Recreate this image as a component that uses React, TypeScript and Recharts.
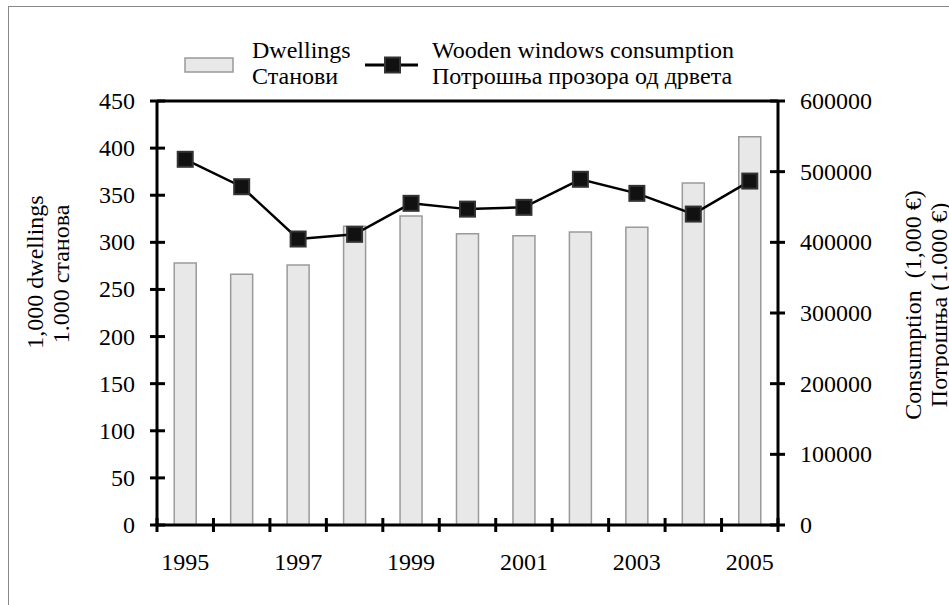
import React from 'react'
import {
  ComposedChart,
  Bar,
  Line,
  XAxis,
  YAxis,
  ReferenceLine,
  Legend,
} from 'recharts'

const years = ['1995', '1996', '1997', '1998', '1999', '2000', '2001', '2002', '2003', '2004', '2005']
const dwellings = [278, 266, 276, 317, 328, 309, 307, 311, 316, 363, 412]
const consumption = [517500, 478700, 404700, 411300, 455200, 447000, 449500, 489200, 469300, 440000, 486700]
const leftTicks = [0, 50, 100, 150, 200, 250, 300, 350, 400, 450]
const rightTicks = [0, 100000, 200000, 300000, 400000, 500000, 600000]

const data = years.map((year, i) => ({
  year,
  dwellings: dwellings[i],
  consumption: consumption[i],
}))

const FONT = "'Liberation Serif', 'Times New Roman', serif"
const FS = 24
const W = 949
const H = 605
const PLOT_LEFT = 157
const PLOT_RIGHT = 778
const PLOT_BOTTOM = 525
const PLOT_TOP = 101
const BAND = (PLOT_RIGHT - PLOT_LEFT) / years.length

const LeftTick = (props: any) => {
  const { x, y, payload } = props
  return (
    <g>
      <line x1={x - 7} x2={x + 8} y1={y} y2={y} stroke="#000" strokeWidth={3} />
      <text x={x - 22} y={y} textAnchor="end" dominantBaseline="central" fontFamily={FONT} fontSize={FS} fill="#000">
        {payload.value}
      </text>
    </g>
  )
}

const RightTick = (props: any) => {
  const { x, y, payload } = props
  return (
    <g>
      <line x1={x - 8} x2={x + 7} y1={y} y2={y} stroke="#000" strokeWidth={3} />
      <text x={x + 22} y={y} textAnchor="start" dominantBaseline="central" fontFamily={FONT} fontSize={FS} fill="#000">
        {payload.value}
      </text>
    </g>
  )
}

const BottomTick = (props: any) => {
  const { x, y, payload, index } = props
  const last = index === years.length - 1
  return (
    <g>
      <line x1={x - BAND / 2} x2={x - BAND / 2} y1={y - 7} y2={y + 7} stroke="#000" strokeWidth={3} />
      {last && <line x1={x + BAND / 2} x2={x + BAND / 2} y1={y - 7} y2={y + 7} stroke="#000" strokeWidth={3} />}
      {index % 2 === 0 && (
        <text x={x} y={y + 45} textAnchor="middle" fontFamily={FONT} fontSize={FS} fill="#000">
          {payload.value}
        </text>
      )}
    </g>
  )
}

const SquareDot = (props: any) => {
  const { cx, cy, index } = props
  return <rect key={`dot-${index}`} x={cx - 7.5} y={cy - 7.5} width={15} height={15} fill="#111" stroke="#333" strokeWidth={2} />
}

const LegendContent = () => (
  <svg width={W} height={100} style={{ position: 'absolute', left: 0, top: 0, overflow: 'visible' }}>
    <rect x={185} y={58} width={48} height={14} fill="#e8e8e8" stroke="#999" strokeWidth={1.5} />
    <text x={252} y={58} fontFamily={FONT} fontSize={FS}>Dwellings</text>
    <text x={252} y={84} fontFamily={FONT} fontSize={FS}>Станови</text>
    <line x1={365} x2={418} y1={65} y2={65} stroke="#000" strokeWidth={3} />
    <rect x={385} y={57.5} width={15} height={15} fill="#111" stroke="#333" strokeWidth={2} />
    <text x={432} y={58} fontFamily={FONT} fontSize={FS}>Wooden windows consumption</text>
    <text x={432} y={84} fontFamily={FONT} fontSize={FS}>Потрошња прозора од дрвета</text>
  </svg>
)

const LeftTitle = () => (
  <g fontFamily={FONT} fontSize={FS} fill="#000">
    <text x={43} y={272} textAnchor="middle" transform="rotate(-90, 43, 272)">1,000 dwellings</text>
    <text x={69} y={274} textAnchor="middle" transform="rotate(-90, 69, 274)">1.000 станова</text>
  </g>
)

const RightTitle = () => (
  <g fontFamily={FONT} fontSize={FS} fill="#000">
    <text x={921} y={305} textAnchor="middle" transform="rotate(-90, 921, 305)">{'Consumption\u00a0 (1,000 €)'}</text>
    <text x={947} y={305} textAnchor="middle" transform="rotate(-90, 947, 305)">Потрошња (1.000 €)</text>
  </g>
)

export default function App() {
  return (
    <div style={{ position: 'fixed', left: 0, top: 0, width: W, height: H, overflow: 'hidden', background: '#fff' }}>
      <div
        style={{
          position: 'absolute',
          left: 8,
          top: 6,
          width: 1000,
          height: 700,
          border: '1.5px solid #888',
        }}
      />
      <div style={{ position: 'absolute', left: 0, top: 0 }}>
        <ComposedChart
          width={W}
          height={H}
          data={data}
          margin={{ top: PLOT_TOP, right: 0, bottom: 30, left: 0 }}
          barCategoryGap="30.5%"
        >
          <XAxis
            dataKey="year"
            height={H - PLOT_BOTTOM - 30}
            interval={0}
            tickSize={0}
            tickMargin={0}
            tickLine={false}
            axisLine={{ stroke: '#000', strokeWidth: 3 }}
            tick={<BottomTick />}
          />
          <YAxis
            yAxisId="left"
            width={PLOT_LEFT}
            domain={[0, 450]}
            ticks={leftTicks}
            tickSize={0}
            tickMargin={0}
            tickLine={false}
            axisLine={{ stroke: '#000', strokeWidth: 3 }}
            tick={<LeftTick />}
            label={{ content: () => <LeftTitle /> }}
          />
          <YAxis
            yAxisId="right"
            orientation="right"
            width={W - PLOT_RIGHT}
            domain={[0, 600000]}
            ticks={rightTicks}
            tickSize={0}
            tickMargin={0}
            tickLine={false}
            axisLine={{ stroke: '#000', strokeWidth: 3 }}
            tick={<RightTick />}
            label={{ content: () => <RightTitle /> }}
          />
          <ReferenceLine yAxisId="left" y={450} stroke="#000" strokeWidth={3} />
          <Legend
            content={() => <LegendContent />}
            wrapperStyle={{ position: 'absolute', left: 0, top: 0, width: W, height: 0 }}
          />
          <Bar
            yAxisId="left"
            dataKey="dwellings"
            fill="#e8e8e8"
            stroke="#9a9a9a"
            strokeWidth={1.5}
            isAnimationActive={false}
          />
          <Line
            yAxisId="right"
            dataKey="consumption"
            stroke="#000"
            strokeWidth={2.5}
            dot={<SquareDot />}
            activeDot={false}
            isAnimationActive={false}
          />
        </ComposedChart>
      </div>
    </div>
  )
}
